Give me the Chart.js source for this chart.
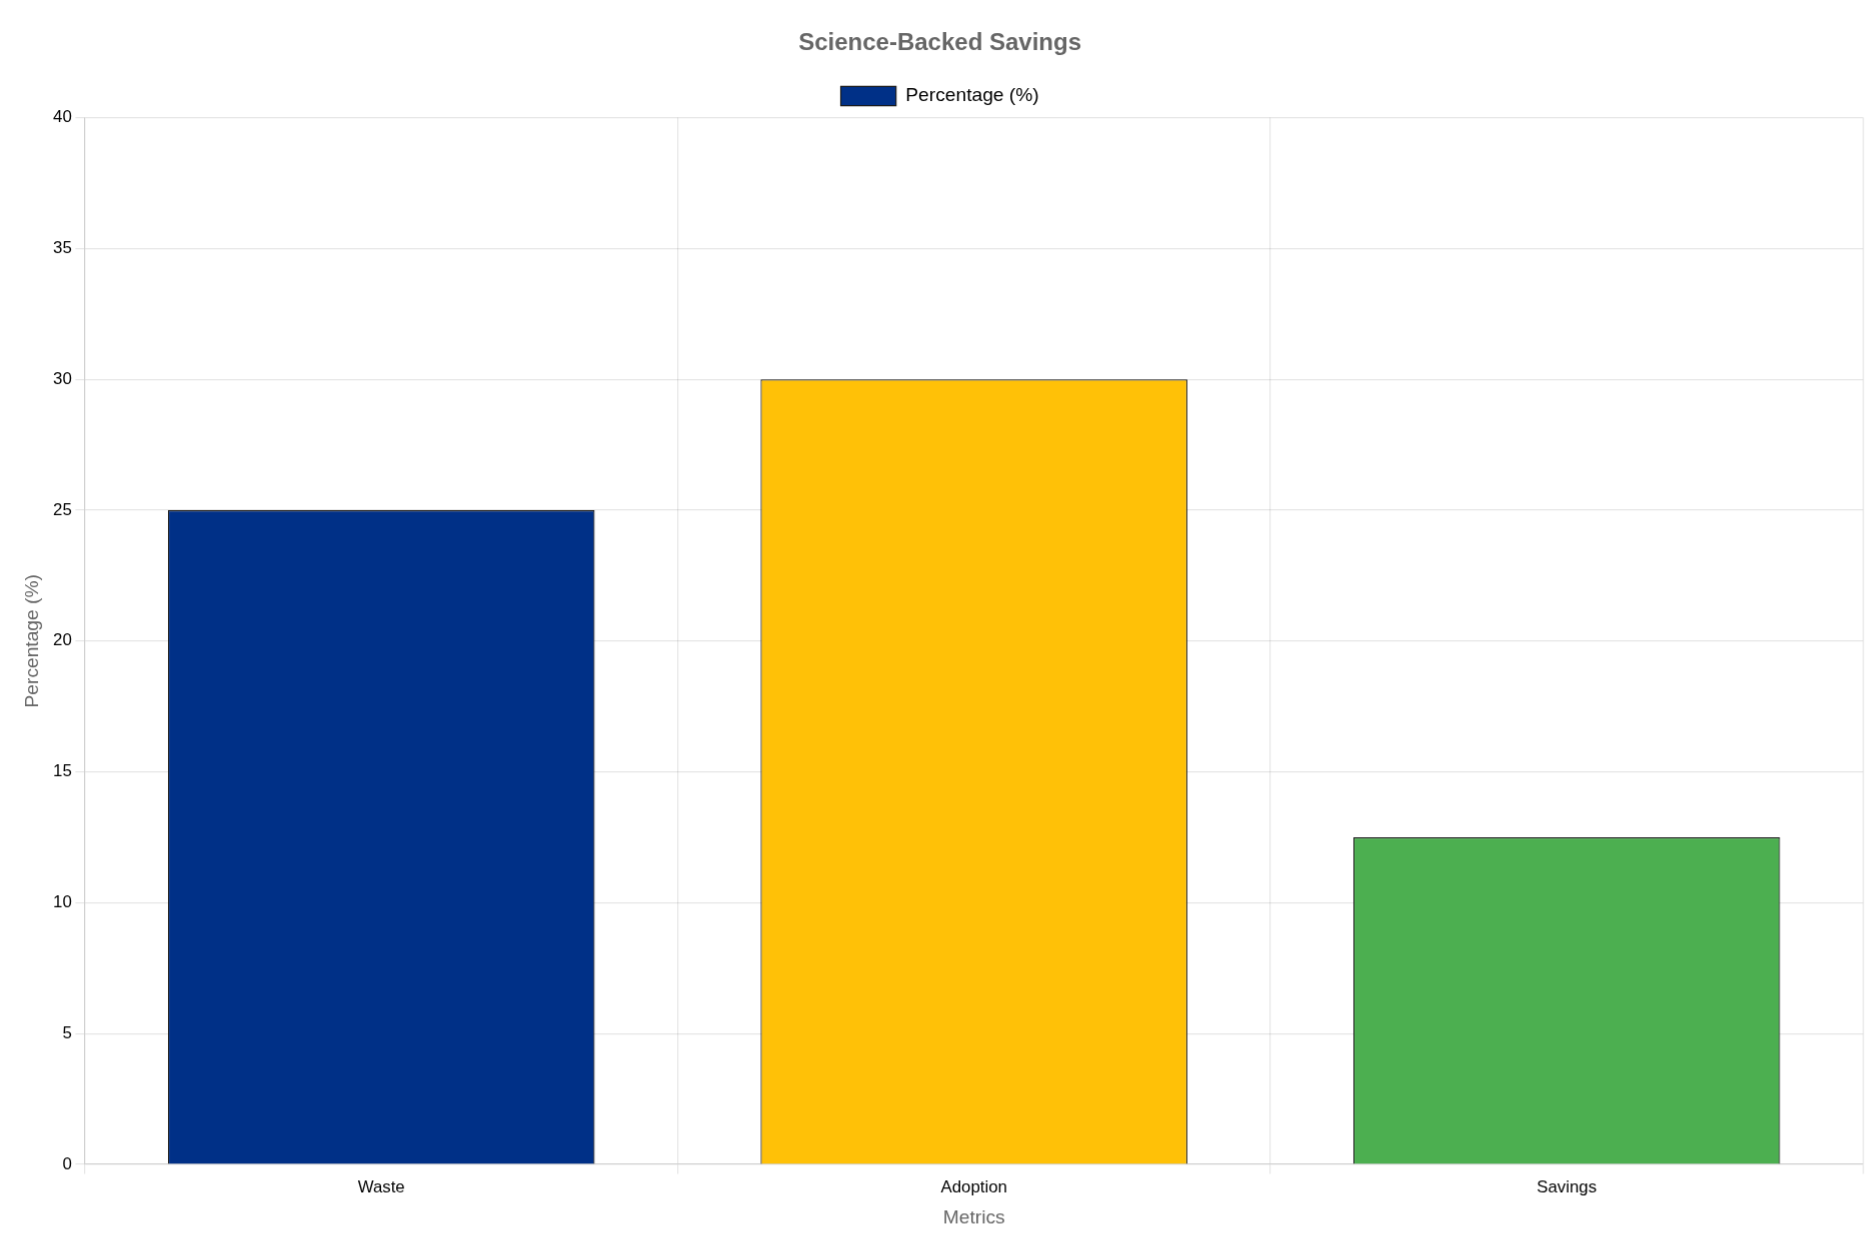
<!DOCTYPE html>
<html>
<head>
<meta charset="utf-8">
<script src="https://cdn.jsdelivr.net/npm/chart.js@4/dist/chart.umd.min.js"></script>
<style>
html,body{margin:0;padding:0;background:#fff;overflow:hidden;}
#wrap{position:absolute;left:0;top:0;width:1563px;height:1042px;transform:scale(1.2);transform-origin:0 0;}
</style>
</head>
<body>
<div id="wrap"><canvas id="c" width="1563" height="1042"></canvas></div>
<script>
const categories = ["Waste", "Adoption", "Savings"];
const values = [25, 30, 12.5];
const barColors = ["#003087", "#FFC107", "#4CAF50"];
const seriesLabel = "Percentage (%)";
const chartTitle = "Science-Backed Savings";
const xTitle = "Metrics";
const yTitle = "Percentage (%)";

const FAM = "Arial, 'Liberation Sans', sans-serif";
const cv = document.getElementById('c');
new Chart(cv, {
  type: 'bar',
  data: {
    labels: categories,
    datasets: [{
      label: seriesLabel,
      data: values,
      backgroundColor: barColors,
      borderColor: "#1a1a1a",
      borderWidth: 1
    }]
  },
  options: {
    responsive: false,
    maintainAspectRatio: false,
    devicePixelRatio: 1.2,
    animation: false,
    layout: { padding: { top: 14, left: 14, right: 11, bottom: 14 } },
    plugins: {
      title: { display: true, text: chartTitle, color: "#666", font: { family: FAM, size: 20, weight: 'bold' }, padding: { top: 10, bottom: 13 } },
      legend: { labels: { color: "#000", boxWidth: 46, padding: 11, font: { family: FAM, size: 16 } } }
    },
    scales: {
      x: {
        title: { display: true, text: xTitle, color: "#666", font: { family: FAM, size: 16 } },
        ticks: { color: "#000", font: { family: FAM, size: 14 } }
      },
      y: {
        min: 0, max: 40,
        ticks: { stepSize: 5, color: "#000", font: { family: FAM, size: 14 } },
        title: { display: true, text: yTitle, color: "#666", font: { family: FAM, size: 16 } }
      }
    }
  }
});
</script>
</body>
</html>
